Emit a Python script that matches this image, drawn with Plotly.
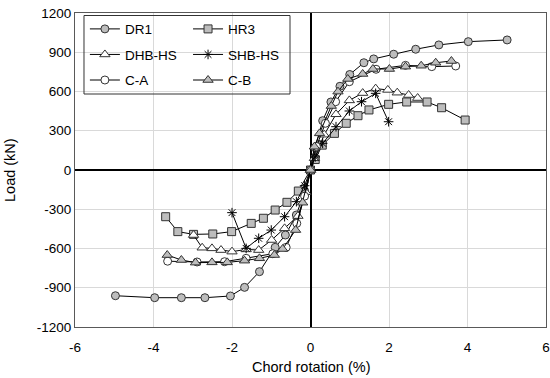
import plotly.graph_objects as go

# ---- data ----
dr1_x = [-4.97, -3.97, -3.29, -2.69, -2.04, -1.68, -1.30, -0.90, -0.64, -0.36, -0.15, 0, 0.12, 0.31, 0.52, 0.75, 1.0, 1.36, 1.61, 2.12, 2.68, 3.27, 4.02, 5.01]
dr1_y = [-961, -976, -976, -976, -963, -897, -777, -591, -497, -344, -160, 0, 170, 377, 520, 640, 730, 820, 849, 885, 923, 956, 981, 994]

hr3_x = [-3.69, -3.38, -2.98, -2.49, -2.01, -1.51, -1.20, -0.90, -0.60, -0.31, 0, 0.12, 0.3, 0.61, 0.91, 1.21, 1.49, 1.99, 2.45, 2.97, 3.34, 3.94]
hr3_y = [-357, -471, -492, -489, -471, -408, -369, -306, -247, -161, 0, 80, 190, 280, 357, 415, 459, 502, 520, 520, 476, 382]

dhb_x = [-2.98, -2.76, -2.51, -2.28, -2.00, -1.64, -1.32, -0.99, -0.66, -0.32, -0.12, 0, 0.1, 0.35, 0.65, 0.99, 1.33, 1.66, 1.97, 2.21, 2.50, 2.73]
dhb_y = [-497, -594, -599, -612, -624, -607, -612, -535, -446, -352, -170, 0, 90, 270, 426, 532, 588, 622, 612, 591, 573, 550]

shb_x = [-2.00, -1.64, -1.32, -1.00, -0.66, -0.36, -0.15, 0, 0.12, 0.31, 0.65, 0.99, 1.30, 1.66, 1.99]
shb_y = [-326, -599, -522, -459, -357, -242, -120, 0, 100, 204, 331, 451, 522, 586, 369]

ca_x = [-3.64, -2.89, -2.19, -1.64, -0.96, -0.62, -0.35, -0.15, 0, 0.15, 0.38, 0.64, 0.99, 1.67, 2.42, 3.09, 3.70]
ca_y = [-697, -703, -701, -675, -640, -591, -408, -200, 0, 180, 357, 522, 675, 770, 800, 790, 795]

cb_x = [-3.65, -3.29, -2.93, -2.51, -2.12, -1.68, -1.30, -0.92, -0.71, -0.38, -0.20, 0, 0.10, 0.23, 0.53, 0.70, 0.95, 1.33, 1.59, 2.01, 2.42, 2.82, 3.19, 3.59]
cb_y = [-650, -688, -708, -706, -706, -693, -675, -650, -604, -459, -250, 0, 178, 280, 489, 599, 696, 734, 772, 772, 790, 797, 820, 833]

x_ticks = [-6, -4, -2, 0, 2, 4, 6]
x_tick_text = ["-6", "-4", "-2", "0", "2", "4", "6"]
y_ticks = [-1200, -900, -600, -300, 0, 300, 600, 900, 1200]
y_tick_text = ["-1200", "-900", "-600", "-300", "0", "300", "600", "900", "1200"]

GRAY = "#bdbdbd"
EDGE = "#333333"

series = [
    ("DR1", dr1_x, dr1_y, "circle", GRAY, 8, "legend"),
    ("HR3", hr3_x, hr3_y, "square", GRAY, 8, "legend2"),
    ("DHB-HS", dhb_x, dhb_y, "triangle-up", "white", 9, "legend"),
    ("SHB-HS", shb_x, shb_y, "asterisk-open", "black", 8, "legend2"),
    ("C-A", ca_x, ca_y, "circle", "white", 8, "legend"),
    ("C-B", cb_x, cb_y, "triangle-up", GRAY, 9, "legend2"),
]

fig = go.Figure()
for name, xs, ys, sym, fill, size, lg in series:
    fig.add_trace(go.Scatter(
        x=xs, y=ys, name=name, mode="lines+markers",
        line=dict(color="black", width=1),
        marker=dict(symbol=sym, size=size, color=fill,
                    line=dict(color=EDGE if sym != "asterisk-open" else "black", width=1)),
        legend=lg, legendgroup=name,
    ))

font = "Liberation Sans, Arial, sans-serif"
fig.update_layout(
    width=550, height=378,
    margin=dict(l=75, r=4, t=13, b=51),
    paper_bgcolor="white", plot_bgcolor="white",
    font=dict(family=font, size=13, color="#000000"),
    xaxis=dict(range=[-6, 6], tickvals=x_ticks, ticktext=x_tick_text, showgrid=True,
               gridcolor="#d9d9d9", gridwidth=1,
               zeroline=True, zerolinecolor="black", zerolinewidth=2,
               showline=True, linecolor="#595959", linewidth=1, mirror=True,
               ticks="", automargin=False, ticklabelstandoff=8,
               tickfont=dict(size=13.5)),
    yaxis=dict(range=[-1200, 1200], tickvals=y_ticks, ticktext=y_tick_text, showgrid=True,
               gridcolor="#d9d9d9", gridwidth=1,
               zeroline=True, zerolinecolor="black", zerolinewidth=2,
               showline=True, linecolor="#595959", linewidth=1, mirror=True,
               ticks="", automargin=False,
               tickfont=dict(size=13.5)),
    legend=dict(x=0.021, y=0.998, xanchor="left", yanchor="top", bgcolor="rgba(0,0,0,0)",
                font=dict(size=13.5), tracegroupgap=5, itemwidth=30),
    legend2=dict(x=0.240, y=0.998, xanchor="left", yanchor="top", bgcolor="rgba(0,0,0,0)",
                 font=dict(size=13.5), tracegroupgap=5, itemwidth=30),
    shapes=[dict(type="rect", xref="paper", yref="paper", x0=0.0191, x1=0.4565, y0=0.742, y1=0.992,
                 line=dict(color="#333333", width=1), fillcolor="rgba(0,0,0,0)")],
    annotations=[
        dict(text="Chord rotation (%)", xref="paper", yref="paper", x=0.5, y=-0.127,
             xanchor="center", yanchor="middle", showarrow=False, font=dict(size=14.5)),
        dict(text="Load (kN)", xref="paper", yref="paper", x=-0.138, y=0.5, textangle=-90,
             xanchor="center", yanchor="middle", showarrow=False, font=dict(size=14.5)),
    ],
    showlegend=True,
)

fig.write_html("out.html", config={"displayModeBar": False},
               post_script="document.body.style.margin='0';")
